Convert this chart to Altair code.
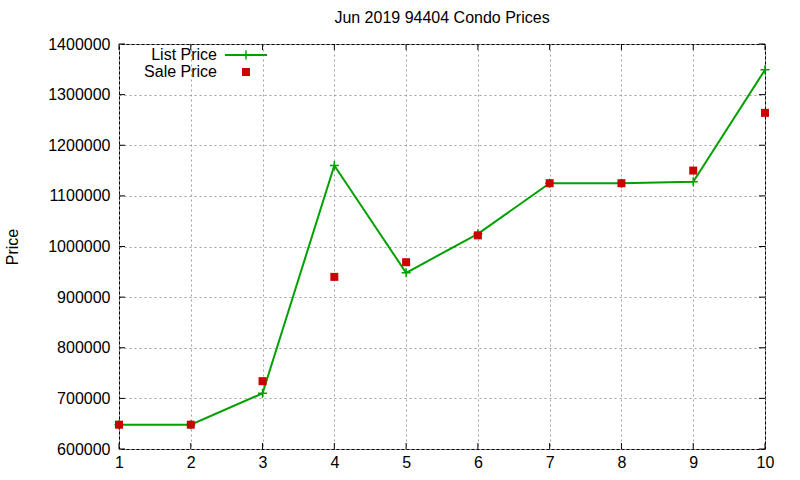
import altair as alt
import pandas as pd

# Data
idx = [1, 2, 3, 4, 5, 6, 7, 8, 9, 10]
list_price = [648000, 648000, 710000, 1160000, 948000, 1025000, 1125000, 1125000, 1128000, 1349000]
sale_price = [648000, 648000, 734000, 940000, 969000, 1022000, 1125000, 1125000, 1150000, 1264000]
x_ticks = list(range(1, 11))
y_ticks = [600000, 700000, 800000, 900000, 1000000, 1100000, 1200000, 1300000, 1400000]

W, H = 646, 405
FONT = "Liberation Sans"
FS = 16
GREEN = "#00a000"
RED = "#cc0000"
PLUS = "M-1,0L1,0M0,-1L0,1"

df = pd.DataFrame({"i": idx, "list": list_price, "sale": sale_price})
xt = pd.DataFrame({"t": x_ticks})
yt = pd.DataFrame({"t": y_ticks})

xs = alt.Scale(domain=[1, 10], nice=False, zero=False)
ys = alt.Scale(domain=[600000, 1400000], nice=False, zero=False)

grid_axis_x = alt.Axis(values=x_ticks, format="d", grid=True, gridColor="#a0a0a0",
                       gridDash=[2, 3], gridWidth=1, ticks=False, domain=False,
                       labelPadding=5, labelFont=FONT, labelFontSize=FS, labelColor="black",
                       labelFlush=False, labelOverlap=False, title=None)
grid_axis_y = alt.Axis(values=y_ticks, format="d", grid=True, gridColor="#a0a0a0",
                       gridDash=[2, 3], gridWidth=1, ticks=False, domain=False,
                       labelPadding=9, labelFont=FONT, labelFontSize=FS, labelColor="black",
                       labelFlush=False, labelOverlap=False,
                       title="Price", titleFont=FONT, titleFontSize=FS, titleFontWeight="normal",
                       titleColor="black", titleAngle=-90, titleX=-107, titleY=H / 2,
                       titleAlign="center", titleBaseline="middle")

base = alt.Chart(df)

line = base.mark_line(color=GREEN, strokeWidth=2).encode(
    x=alt.X("i:Q", scale=xs, axis=grid_axis_x),
    y=alt.Y("list:Q", scale=ys, axis=grid_axis_y),
)
plus = base.mark_point(shape=PLUS, size=81, filled=False, color=GREEN, strokeWidth=1.5, opacity=1).encode(
    x=alt.X("i:Q", scale=xs), y=alt.Y("list:Q", scale=ys)
)
sq = base.mark_square(size=64, color=RED, opacity=1).encode(
    x=alt.X("i:Q", scale=xs), y=alt.Y("sale:Q", scale=ys)
)

# inward ticks (mirrored on all sides)
xb = alt.Chart(xt).mark_rule(color="black").encode(x=alt.X("t:Q", scale=xs), y=alt.value(H), y2=alt.value(H - 6))
xtp = alt.Chart(xt).mark_rule(color="black").encode(x=alt.X("t:Q", scale=xs), y=alt.value(0), y2=alt.value(6))
yl = alt.Chart(yt).mark_rule(color="black").encode(y=alt.Y("t:Q", scale=ys), x=alt.value(0), x2=alt.value(6))
yr = alt.Chart(yt).mark_rule(color="black").encode(y=alt.Y("t:Q", scale=ys), x=alt.value(W), x2=alt.value(W - 6))

# legend (gnuplot style, inside top-left)
leg = pd.DataFrame({"label": ["List Price", "Sale Price"], "yy": [11, 28]})
leg_text = alt.Chart(leg).mark_text(align="right", baseline="middle", font=FONT, fontSize=FS, color="black").encode(
    text="label:N", x=alt.value(98), y=alt.Y("yy:Q", scale=None)
)
leg_line = alt.Chart(leg.iloc[[0]]).mark_rule(color=GREEN, strokeWidth=2).encode(
    x=alt.value(106), x2=alt.value(148), y=alt.Y("yy:Q", scale=None)
)
leg_plus = alt.Chart(leg.iloc[[0]]).mark_point(shape=PLUS, size=81, filled=False, color=GREEN, strokeWidth=1.5, opacity=1).encode(
    x=alt.value(127), y=alt.Y("yy:Q", scale=None)
)
leg_sq = alt.Chart(leg.iloc[[1]]).mark_square(size=64, color=RED, opacity=1).encode(
    x=alt.value(127), y=alt.Y("yy:Q", scale=None)
)

chart = alt.layer(line, plus, sq, xb, xtp, yl, yr, leg_text, leg_line, leg_plus, leg_sq).properties(
    width=W, height=H,
    title=alt.TitleParams("Jun 2019 94404 Condo Prices", font=FONT, fontSize=FS, fontWeight="normal",
                          color="black", anchor="middle", offset=10),
    autosize=alt.AutoSizeParams(type="none"),
    padding={"left": 119, "top": 44, "right": 35, "bottom": 31},
    background="white",
).configure_view(stroke="black", strokeWidth=1)

chart.save("out.html", embed_options={"renderer": "svg", "actions": False})
